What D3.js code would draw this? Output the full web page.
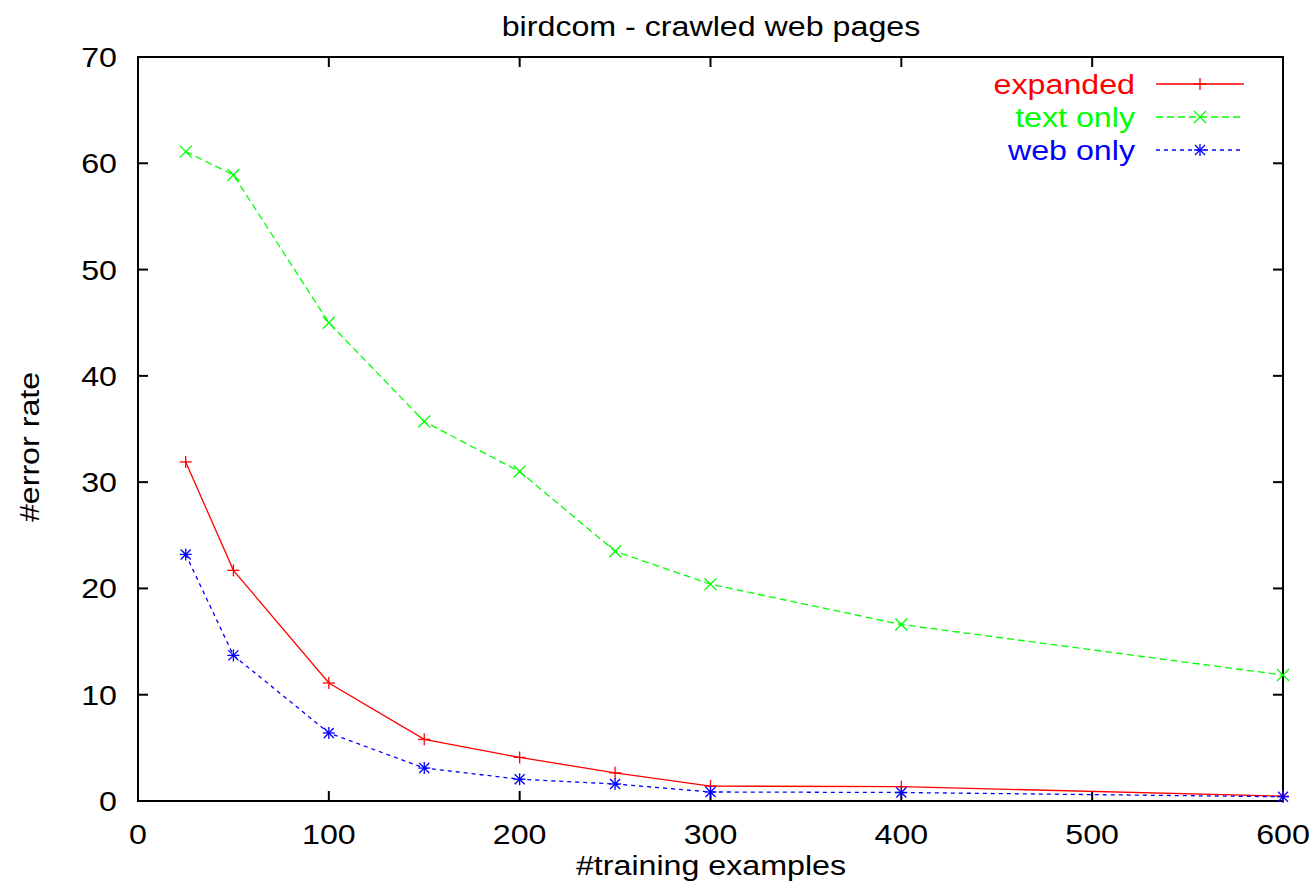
<!DOCTYPE html>
<html>
<head>
<meta charset="utf-8">
<script src="https://cdn.jsdelivr.net/npm/d3@7"></script>
<style>
  body { margin: 0; background: #fff; }
  svg text { font-family: "Liberation Sans", Arial, sans-serif; }
</style>
</head>
<body>
<div id="chart"></div>
<script>
var xValues = [25, 50, 100, 150, 200, 250, 300, 400, 600];
var expanded = [31.9, 21.7, 11.1, 5.8, 4.1, 2.65, 1.4, 1.35, 0.45];
var textOnly = [61.1, 58.9, 45.0, 35.7, 31.0, 23.5, 20.4, 16.6, 11.85];
var webOnly  = [23.2, 13.7, 6.4, 3.1, 2.05, 1.6, 0.85, 0.8, 0.4];
var xTicks = [0, 100, 200, 300, 400, 500, 600];
var yTicks = [0, 10, 20, 30, 40, 50, 60, 70];

var series = [
  {name: "expanded", values: expanded, color: "#ff0000", dash: null, marker: "plus"},
  {name: "text only", values: textOnly, color: "#00ff00", dash: "7,4", marker: "cross"},
  {name: "web only", values: webOnly, color: "#0000ff", dash: "4,4", marker: "star"}
];

var width = 1316, height = 886;
var margin = {top: 57, right: 33, bottom: 85, left: 138};

var svg = d3.select("#chart").append("svg")
  .attr("width", width)
  .attr("height", height);

var x = d3.scaleLinear().domain([0, 600]).range([margin.left, width - margin.right]);
var y = d3.scaleLinear().domain([0, 70]).range([height - margin.bottom, margin.top]);

var fontSize = 28;
var stretch = 1.15; // the postscript font renders a bit wider than it is tall
var tickLen = 10;

function label(px, py, str, anchor, color, rot) {
  return svg.append("text")
    .attr("transform", "translate(" + px + "," + py + ")" + (rot ? " rotate(" + rot + ")" : "") + " scale(" + stretch + ",1)")
    .attr("text-anchor", anchor)
    .attr("font-size", fontSize)
    .attr("fill", color || "#000")
    .text(str);
}

// ticks, inward on all four sides
xTicks.forEach(function(t) {
  svg.append("line").attr("x1", x(t)).attr("x2", x(t))
    .attr("y1", y(0)).attr("y2", y(0) - tickLen)
    .attr("stroke", "#000").attr("stroke-width", 2);
  svg.append("line").attr("x1", x(t)).attr("x2", x(t))
    .attr("y1", y(70)).attr("y2", y(70) + tickLen)
    .attr("stroke", "#000").attr("stroke-width", 2);
  label(x(t), y(0) + 43, t, "middle");
});
yTicks.forEach(function(t) {
  svg.append("line").attr("x1", x(0)).attr("x2", x(0) + tickLen)
    .attr("y1", y(t)).attr("y2", y(t))
    .attr("stroke", "#000").attr("stroke-width", 2);
  svg.append("line").attr("x1", x(600)).attr("x2", x(600) - tickLen)
    .attr("y1", y(t)).attr("y2", y(t))
    .attr("stroke", "#000").attr("stroke-width", 2);
  label(x(0) - 21, y(t) + 10, t, "end");
});

// frame
svg.append("rect")
  .attr("x", x(0)).attr("y", y(70))
  .attr("width", x(600) - x(0)).attr("height", y(0) - y(70))
  .attr("fill", "none").attr("stroke", "#000").attr("stroke-width", 2);

// titles
label(711, 36, "birdcom - crawled web pages", "middle");
label(711, 875, "#training examples", "middle");
label(39, 447, "#error rate", "middle", "#000", -90);

function drawMarker(g, type, cx, cy, color) {
  var s = 6;
  var paths = [];
  if (type === "plus" || type === "star") {
    paths.push([[cx - s, cy], [cx + s, cy]]);
    paths.push([[cx, cy - s], [cx, cy + s]]);
  }
  if (type === "cross" || type === "star") {
    var d = type === "star" ? 5 : 6;
    paths.push([[cx - d, cy - d], [cx + d, cy + d]]);
    paths.push([[cx - d, cy + d], [cx + d, cy - d]]);
  }
  paths.forEach(function(p) {
    g.append("line")
      .attr("x1", p[0][0]).attr("y1", p[0][1])
      .attr("x2", p[1][0]).attr("y2", p[1][1])
      .attr("stroke", color).attr("stroke-width", 1.3);
  });
}

var line = d3.line()
  .x(function(d, i) { return x(xValues[i]); })
  .y(function(d) { return y(d); });

series.forEach(function(s, k) {
  var g = svg.append("g");
  g.append("path")
    .attr("d", line(s.values))
    .attr("fill", "none")
    .attr("stroke", s.color)
    .attr("stroke-width", 1.3)
    .attr("stroke-dasharray", s.dash);
  s.values.forEach(function(v, i) {
    drawMarker(g, s.marker, x(xValues[i]), y(v), s.color);
  });

  // legend
  var ly = 84 + k * 33;
  label(1135, ly + 10, s.name, "end", s.color);
  svg.append("line")
    .attr("x1", 1156).attr("x2", 1244).attr("y1", ly).attr("y2", ly)
    .attr("stroke", s.color).attr("stroke-width", 1.3)
    .attr("stroke-dasharray", s.dash);
  drawMarker(svg, s.marker, 1200, ly, s.color);
});
</script>
</body>
</html>
